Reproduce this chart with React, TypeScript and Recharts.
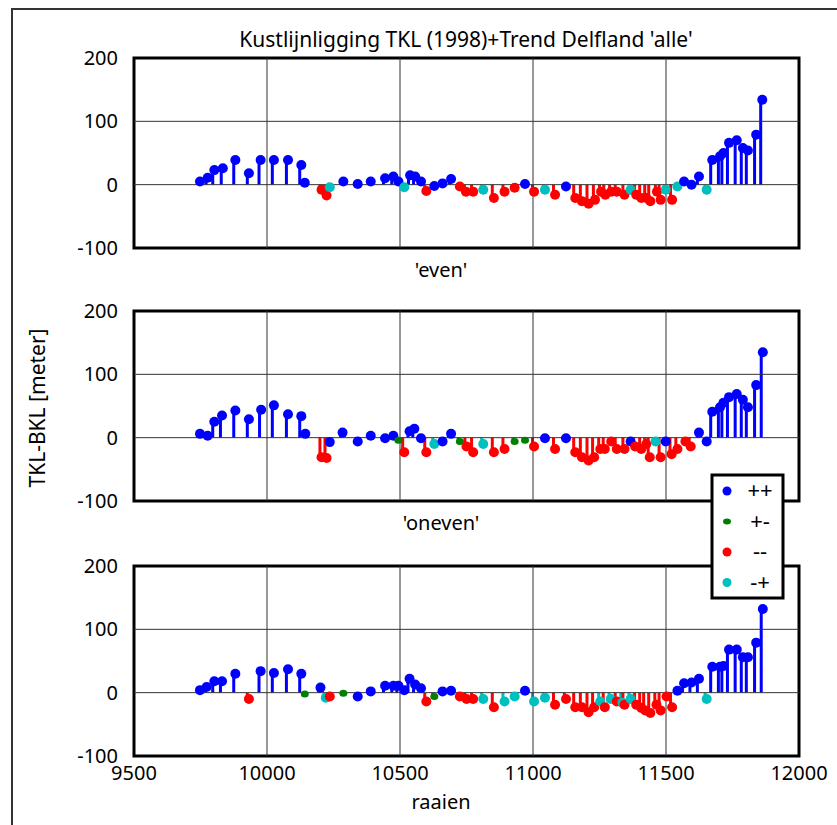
import { ComposedChart, Bar, Scatter, XAxis, YAxis, ReferenceLine, ReferenceArea } from "recharts";

// kleur per klasse: ++, +-, --, -+
const COLORS: Record<string, string> = {
  pp: "#0000ff",
  pm: "#007f00",
  mm: "#ff0000",
  mp: "#00bfbf",
};
const LEGEND_KEYS = ["pp", "pm", "mm", "mp"];
const LEGEND_LABELS = ["++", "+-", "--", "-+"];

const X_TICKS = [9500, 10000, 10500, 11000, 11500, 12000];
const Y_TICKS = [-100, 0, 100, 200];
const X_GRID = [10000, 10500, 11000, 11500];
const Y_GRID = [0, 100];

// 'even'
const evenRaai = [
  9748, 9777, 9802, 9834, 9881, 9932, 9976, 10026, 10079, 10129, 10142, 10205, 10224, 10236,
  10287, 10341, 10390, 10444, 10475, 10494, 10516, 10538, 10557, 10579, 10599, 10629, 10660,
  10692, 10725, 10748, 10775, 10813, 10853, 10893, 10931, 10970, 11004, 11045, 11083, 11124,
  11159, 11184, 11209, 11233, 11256, 11272, 11294, 11315, 11344, 11367, 11388, 11407, 11426,
  11441, 11466, 11480, 11499, 11523, 11543, 11568, 11596, 11624, 11653, 11674, 11703, 11716,
  11737, 11766, 11789, 11808, 11839, 11862,
];
const evenVal = [
  5, 11, 23, 26, 39, 18, 39, 39, 39, 31, 3, -8, -17, -4,
  5, 1, 5, 10, 13, 5, -4, 15, 13, 5, -10, -2, 2,
  9, -3, -11, -11, -8, -21, -11, -5, 1, -11, -8, -16, -3,
  -21, -26, -30, -24, -11, -16, -11, -11, -16, -8, -16, -21, -21,
  -26, -11, -24, -8, -24, -3, 5, 0, 13, -8, 39, 45, 50,
  66, 70, 58, 54, 79, 134,
];
const evenCat = [
  "pp", "pp", "pp", "pp", "pp", "pp", "pp", "pp", "pp", "pp", "pp", "mm", "mm", "mp",
  "pp", "pp", "pp", "pp", "pp", "pp", "mp", "pp", "pp", "pp", "mm", "pp", "pp",
  "pp", "mm", "mm", "mm", "mp", "mm", "mm", "mm", "pp", "mm", "mp", "mm", "pp",
  "mm", "mm", "mm", "mm", "mm", "mm", "mm", "mm", "mm", "mp", "mm", "mm", "mm",
  "mm", "mm", "mm", "mp", "mm", "mp", "pp", "pp", "pp", "mp", "pp", "pp", "pp",
  "pp", "pp", "pp", "pp", "pp", "pp",
];

// 'oneven'
const onevenRaai = [
  9748, 9777, 9802, 9831, 9881, 9932, 9978, 10026, 10079, 10129, 10144, 10205, 10224, 10236,
  10284, 10341, 10390, 10444, 10475, 10494, 10516, 10536, 10554, 10579, 10599, 10629, 10660,
  10692, 10725, 10750, 10775, 10813, 10853, 10893, 10931, 10970, 11004, 11045, 11083, 11124,
  11159, 11184, 11209, 11230, 11253, 11270, 11294, 11315, 11344, 11367, 11384, 11407, 11426,
  11439, 11461, 11480, 11499, 11521, 11543, 11573, 11593, 11624, 11653, 11674, 11703, 11716,
  11737, 11766, 11789, 11808, 11839, 11864,
];
const onevenVal = [
  6, 3, 25, 35, 43, 29, 44, 51, 37, 34, 6, -31, -32, -7,
  8, -6, 3, -1, 3, -4, -23, 10, 14, -1, -23, -10, -6,
  6, -6, -14, -23, -10, -23, -18, -6, -4, -14, -1, -18, -1,
  -23, -31, -36, -31, -18, -18, -6, -18, -18, -6, -14, -18, -10,
  -31, -6, -31, -6, -26, -18, -6, -14, 8, -6, 41, 48, 55,
  64, 69, 60, 48, 83, 135,
];
const onevenCat = [
  "pp", "pp", "pp", "pp", "pp", "pp", "pp", "pp", "pp", "pp", "pp", "mm", "mm", "pp",
  "pp", "pp", "pp", "pp", "pp", "pm", "mm", "pp", "pp", "pp", "mm", "mp", "pp",
  "pp", "pm", "mm", "mm", "mp", "mm", "mm", "pm", "pm", "mm", "pp", "mm", "pp",
  "mm", "mm", "mm", "mm", "mm", "mm", "mm", "mm", "mm", "pp", "mm", "mm", "mm",
  "mm", "mp", "mm", "pp", "mm", "mm", "mm", "mm", "pp", "pp", "pp", "pp", "pp",
  "pp", "pp", "pp", "pp", "pp", "pp",
];

// 'alle'
const alleRaai = [
  9748, 9773, 9802, 9831, 9881, 9932, 9976, 10026, 10079, 10129, 10142, 10201, 10221, 10236,
  10287, 10341, 10390, 10444, 10475, 10494, 10516, 10536, 10557, 10579, 10599, 10629, 10660,
  10692, 10725, 10750, 10775, 10813, 10853, 10893, 10931, 10970, 11004, 11045, 11083, 11124,
  11159, 11184, 11209, 11230, 11253, 11270, 11292, 11315, 11336, 11344, 11367, 11388, 11407,
  11422, 11441, 11464, 11480, 11502, 11523, 11543, 11568, 11596, 11624, 11653, 11674, 11703,
  11716, 11737, 11766, 11789, 11808, 11839, 11864,
];
const alleVal = [
  4, 9, 18, 18, 30, -10, 34, 31, 37, 30, -2, 8, -8, -6,
  -1, -6, 2, 11, 11, 11, 4, 22, 13, 7, -14, -6, 2,
  3, -6, -10, -10, -10, -23, -14, -6, 3, -14, -8, -19, -10,
  -23, -23, -31, -23, -14, -23, -10, -14, -16, -19, -10, -19, -24,
  -28, -32, -19, -28, -6, -23, 3, 15, 16, 22, -10, 41, 41,
  42, 68, 68, 56, 56, 79, 132,
];
const alleCat = [
  "pp", "pp", "pp", "pp", "pp", "mm", "pp", "pp", "pp", "pp", "pm", "pp", "mp", "mm",
  "pm", "pp", "pp", "pp", "pp", "pp", "pp", "pp", "pp", "pp", "mm", "pm", "pp",
  "pp", "mm", "mm", "mm", "mp", "mm", "mp", "mp", "pp", "mp", "mp", "mm", "mm",
  "mm", "mm", "mm", "mm", "mp", "mm", "mp", "mm", "mp", "mm", "mp", "mm", "mm",
  "mm", "mm", "mm", "mm", "mm", "mm", "pp", "pp", "pp", "pp", "mp", "pp", "pp",
  "pp", "pp", "pp", "pp", "pp", "pp", "pp",
];

type Pt = { x: number; v: number; c: string };

function build(raai: number[], val: number[], cat: string[]): Pt[] {
  return raai.map((x, i) => ({ x, v: val[i], c: cat[i] }));
}

const FONT = "'Noto Sans', sans-serif";
const TICK_FONT = 20;

function Panel({ data, top, showX }: { data: Pt[]; top: number; showX: boolean }) {
  const height = showX ? 270 : 230;

  const stem = (props: any) => {
    const { x, y, width, height: h, index } = props;
    if (x == null || y == null) return <g />;
    const mid = x + (width || 0) / 2 - 1.5;
    const y0 = Math.min(y, y + h);
    const hh = Math.abs(h);
    return <rect x={mid - 1.5} y={y0} width={3} height={hh} fill={COLORS[data[index].c]} />;
  };

  const dot = (props: any) => {
    const { cx, cy, index } = props;
    if (cx == null || cy == null) return <g />;
    const c = data[index].c;
    if (c === "pm") return <ellipse cx={cx} cy={cy} rx={4} ry={3.5} fill={COLORS[c]} />;
    return <circle cx={cx} cy={cy} r={5} fill={COLORS[c]} />;
  };

  return (
    <div style={{ position: "absolute", left: 0, top: top - 20 }}>
      <ComposedChart
        width={837}
        height={height}
        data={data}
        margin={{ top: 20, right: 38, bottom: showX ? 30 : 20, left: 74 }}
      >
        <XAxis
          dataKey="x"
          type="number"
          domain={[9500, 12000]}
          ticks={X_TICKS}
          interval={0}
          hide={!showX}
          height={30}
          axisLine={false}
          tickLine={false}
          tickSize={0}
          tickMargin={10}
          tick={{ fill: "#000", fontSize: TICK_FONT, fontFamily: FONT }}
          allowDataOverflow
        />
        <YAxis
          type="number"
          domain={[-100, 200]}
          ticks={Y_TICKS}
          interval={0}
          width={60}
          axisLine={false}
          tickLine={false}
          tickSize={0}
          tickMargin={16}
          tick={{ fill: "#000", fontSize: TICK_FONT, fontFamily: FONT }}
          allowDataOverflow
        />
        {X_GRID.map((g) => (
          <ReferenceLine key={"x" + g} x={g} stroke="#333" strokeWidth={1} />
        ))}
        {Y_GRID.map((g) => (
          <ReferenceLine key={"y" + g} y={g} stroke="#333" strokeWidth={1} />
        ))}
        <Bar dataKey="v" barSize={3} shape={stem} isAnimationActive={false} />
        <Scatter dataKey="v" shape={dot} isAnimationActive={false} />
        <ReferenceArea
          x1={9500}
          x2={12000}
          y1={-100}
          y2={200}
          fill="none"
          fillOpacity={0}
          stroke="#000"
          strokeWidth={3}
        />
      </ComposedChart>
    </div>
  );
}

export default function App() {
  const even = build(evenRaai, evenVal, evenCat);
  const oneven = build(onevenRaai, onevenVal, onevenCat);
  const alle = build(alleRaai, alleVal, alleCat);

  return (
    <div
      style={{
        position: "absolute",
        left: 0,
        top: 0,
        width: 837,
        height: 825,
        background: "#fff",
        overflow: "hidden",
        fontFamily: FONT,
      }}
    >
      <Panel data={even} top={58} showX={false} />
      <Panel data={oneven} top={311} showX={false} />
      <Panel data={alle} top={566} showX={true} />
      <svg
        width={837}
        height={825}
        style={{ position: "absolute", left: 0, top: 0, pointerEvents: "none" }}
      >
        <rect x={12} y={9} width={900} height={900} fill="none" stroke="#333" strokeWidth={2} />
        <g fontFamily={FONT} fontSize={20} fill="#000" textAnchor="middle">
          <text x={466} y={47} fontSize={21}>Kustlijnligging TKL (1998)+Trend Delfland 'alle'</text>
          <text x={441} y={277}>'even'</text>
          <text x={441} y={530}>'oneven'</text>
          <text x={441} y={809}>raaien</text>
          <text x={45} y={408} fontSize={21} transform="rotate(-90 45 408)">TKL-BKL [meter]</text>
        </g>
        <g>
          <rect x={712} y={475} width={71} height={123} fill="#fff" stroke="#000" strokeWidth={3} />
          {LEGEND_KEYS.map((k, i) => {
            const cy = 491 + i * 30.5;
            return (
              <g key={k}>
                {k === "pm" ? (
                  <ellipse cx={727} cy={cy} rx={4} ry={3} fill={COLORS[k]} />
                ) : (
                  <circle cx={727} cy={cy} r={4.5} fill={COLORS[k]} />
                )}
                <text x={760} y={cy + 7} fontFamily={FONT} fontSize={22} textAnchor="middle" fill="#000">
                  {LEGEND_LABELS[i]}
                </text>
              </g>
            );
          })}
        </g>
      </svg>
    </div>
  );
}
